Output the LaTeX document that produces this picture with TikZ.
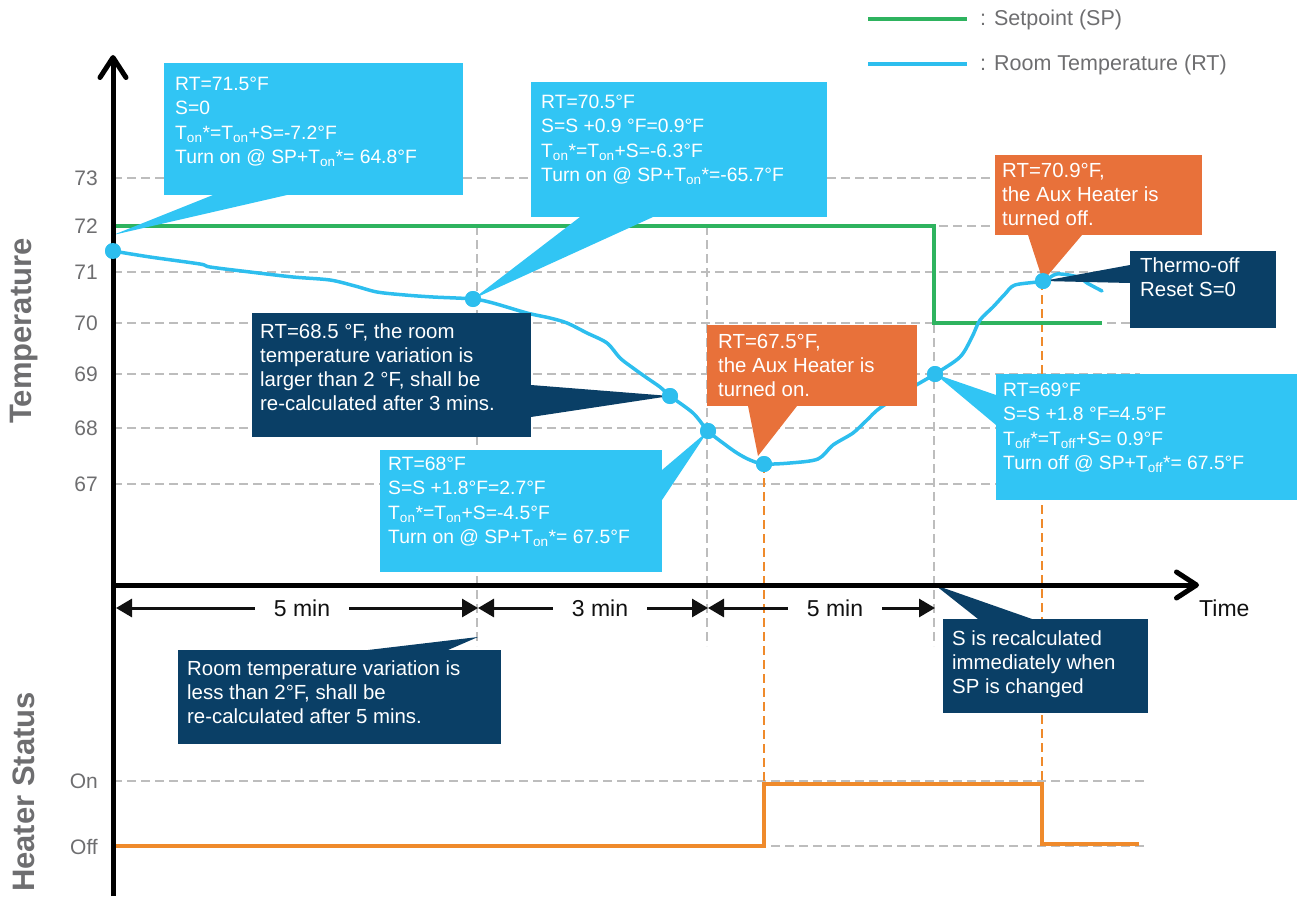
\documentclass[tikz,border=0pt]{standalone}
\usepackage{fontspec}
\setmainfont{Liberation Sans}
\usetikzlibrary{arrows.meta,calc}
\definecolor{cblue}{HTML}{31C5F4}
\definecolor{rtblue}{HTML}{2DBEEE}
\definecolor{navy}{HTML}{0A3F66}
\definecolor{corange}{HTML}{E8713A}
\definecolor{hot}{HTML}{EF8A2B}
\definecolor{spgreen}{HTML}{2EB35F}
\definecolor{gridgray}{HTML}{BDBDBD}
\definecolor{labelgray}{HTML}{6E6E70}
\definecolor{dimblack}{HTML}{111111}
\tikzset{
  gridline/.style={draw=gridgray, line width=1.5pt, dash pattern=on 9pt off 5pt},
  hotdash/.style={draw=hot, line width=1.5pt, dash pattern=on 9pt off 5pt},
  spline/.style={draw=spgreen, line width=4.5pt},
  rtline/.style={draw=rtblue, line width=3.5pt, line join=round, line cap=round},
  heatline/.style={draw=hot, line width=4pt},
  axisline/.style={draw=black, line width=5pt, -{Straight Barb[length=20pt,width=26pt,round]}},
  dimline/.style={draw=dimblack, line width=3pt, {Triangle[length=16pt,width=18pt]}-{Triangle[length=16pt,width=18pt]}},
  dimlabel/.style={fill=white, inner xsep=19pt, inner ysep=2pt, text=dimblack, font=\fontsize{23}{26}\selectfont},
  box/.style={inner sep=0pt, anchor=north west, outer sep=0pt},
  bluetxt/.style={inner sep=0pt, anchor=north west, align=left, text=white, font=\fontsize{19.3}{24.3}\selectfont},
  darktxt/.style={inner sep=0pt, anchor=north west, align=left, text=white, font=\fontsize{20.4}{24}\selectfont},
  tick/.style={anchor=east, inner sep=0pt, text=labelgray, font=\fontsize{21}{24}\selectfont},
  dot/.style={circle, fill=rtblue, minimum size=16pt, inner sep=0pt},
  axtitle/.style={rotate=90, text=labelgray, font=\bfseries\fontsize{31}{31}\selectfont},
  legtxt/.style={anchor=base west, inner sep=0pt, text=labelgray, font=\fontsize{21.5}{24}\selectfont}
}
\begin{document}
\begin{tikzpicture}[x=1pt,y=-1pt]
\useasboundingbox (0,0) rectangle (1297,896);

% horizontal grid lines
\draw[gridline] (113,178) -- (995,178);
\draw[gridline] (113,226) -- (995,226);
\draw[gridline] (113,272) -- (1140,272);
\draw[gridline] (113,323) -- (1140,323);
\draw[gridline] (113,374) -- (1140,374);
\draw[gridline] (113,428) -- (1140,428);
\draw[gridline] (113,484) -- (1000,484);
\draw[gridline] (113,781) -- (1145,781);
\draw[gridline] (113,846) -- (1145,846);
% vertical grid lines
\draw[gridline] (477,226) -- (477,646);
\draw[gridline] (707,226) -- (707,646);
\draw[gridline] (934,226) -- (934,646);

% free pointer ends
\coordinate (pA) at (113,235);
\coordinate (pE) at (758,456);
\coordinate (pI) at (478,637);
\coordinate (pJ) at (935,585);

% orange dashed
\draw[hotdash] (764,464) -- (764,784);
\draw[hotdash] (1042,281) -- (1042,784);

% setpoint
\draw[spline] (113,226) -- (934,226) -- (934,323) -- (1102,323);

% heater status
\draw[heatline] (113,846) -- (764,846) -- (764,784) -- (1042,784) -- (1042,844) -- (1139,844);

% room temperature curve
\draw[rtline] plot[smooth, tension=0.5] coordinates {
(113,251) (150,257) (200,264) (210,267) (250,272) (293,277) (330,280) (355,286) (377,292) (405,295) (433,297) (473,299)
(493,303) (527,313) (550,318) (567,323) (587,333) (607,343) (620,358) (633,368) (647,378) (660,387) (670,396)
(693,413) (708,431) (723,443) (737,453) (750,460) (764,464) (790,463) (818,459) (833,445) (853,433) (867,420)
(880,408) (913,387) (935,374) (960,357) (972,337) (980,320) (993,307) (1005,294) (1015,285) (1043,281)
(1057,274) (1078,277) (1087,283) (1102,291)};

% dots
\node[dot] (dA) at (113,251) {};
\node[dot] (dB) at (473,299) {};
\node[dot] (dC) at (670,396) {};
\node[dot] (dD) at (708,431) {};
\node[dot] (dE) at (764,464) {};
\node[dot] (dF) at (935,374) {};
\node[dot] (dG) at (1043,281) {};

% boxes
\node[box, fill=cblue, minimum width=299pt, minimum height=132pt] (boxA) at (164,63) {};
\node[box, fill=cblue, minimum width=296pt, minimum height=135pt] (boxB) at (531,82) {};
\node[box, fill=navy, minimum width=279pt, minimum height=124pt] (boxC) at (252,313) {};
\node[box, fill=cblue, minimum width=282pt, minimum height=122pt] (boxD) at (380,450) {};
\node[box, fill=corange, minimum width=210pt, minimum height=81pt] (boxE) at (707,325) {};
\node[box, fill=cblue, minimum width=301pt, minimum height=126pt] (boxF) at (996,374) {};
\node[box, fill=corange, minimum width=207pt, minimum height=80pt] (boxG) at (995,155) {};
\node[box, fill=navy, minimum width=146pt, minimum height=77pt] (boxH) at (1130,251) {};
\node[box, fill=navy, minimum width=323pt, minimum height=94pt] (boxI) at (178,650) {};
\node[box, fill=navy, minimum width=205pt, minimum height=94pt] (boxJ) at (943,619) {};

% pointers
\fill[cblue] ($(boxA.south west)+(49,0)$) -- (pA) -- ($(boxA.south west)+(123,0)$) -- cycle;
\fill[cblue] ($(boxB.south west)+(49,0)$) -- (dB.center) -- ($(boxB.south west)+(122,0)$) -- cycle;
\fill[navy] ($(boxC.north east)+(0,72)$) -- (dC.center) -- ($(boxC.north east)+(0,104)$) -- cycle;
\fill[cblue] ($(boxD.north east)+(0,20)$) -- (dD.center) -- ($(boxD.north east)+(0,50)$) -- cycle;
\fill[corange] ($(boxE.south west)+(41,0)$) -- (pE) -- ($(boxE.south west)+(90,0)$) -- cycle;
\fill[cblue] ($(boxF.north west)+(0,21)$) -- (dF.center) -- ($(boxF.north west)+(0,51)$) -- cycle;
\fill[corange] ($(boxG.south west)+(33,0)$) -- (dG.center) -- ($(boxG.south west)+(87,0)$) -- cycle;
\fill[navy] ($(boxH.north west)+(0,14)$) -- (dG.center) -- ($(boxH.north west)+(0,32)$) -- cycle;
\fill[navy] ($(boxI.north west)+(190,0)$) -- (pI) -- ($(boxI.north west)+(270,0)$) -- cycle;
\fill[navy] ($(boxJ.north west)+(35,0)$) -- (pJ) -- ($(boxJ.north west)+(89,0)$) -- cycle;

% redraw dots over pointers
\node[dot] at (dB) {};
\node[dot] at (dC) {};
\node[dot] at (dD) {};
\node[dot] at (dF) {};
\node[dot] at (dG) {};
\node[dot] at (dE) {};

% texts
\node[bluetxt] (tA) at ($(boxA.north west)+(11,14)$) {RT=71.5°F\\S=0\\T\textsubscript{on}*=T\textsubscript{on}+S=-7.2°F\\Turn on @ SP+T\textsubscript{on}*= 64.8°F};
\node[bluetxt] (tB) at ($(boxB.north west)+(10,13)$) {RT=70.5°F\\S=S +0.9 °F=0.9°F\\T\textsubscript{on}*=T\textsubscript{on}+S=-6.3°F\\Turn on @ SP+T\textsubscript{on}*=-65.7°F};
\node[darktxt] (tC) at ($(boxC.north west)+(8,11)$) {RT=68.5 °F, the room\\temperature variation is\\larger than 2 °F, shall be\\re-calculated after 3 mins.};
\node[bluetxt] (tD) at ($(boxD.north west)+(8,7)$) {RT=68°F\\S=S +1.8°F=2.7°F\\T\textsubscript{on}*=T\textsubscript{on}+S=-4.5°F\\Turn on @ SP+T\textsubscript{on}*= 67.5°F};
\node[darktxt] (tE) at ($(boxE.north west)+(11,9)$) {RT=67.5°F,\\the Aux Heater is\\turned on.};
\node[bluetxt] (tF) at ($(boxF.north west)+(7,9)$) {RT=69°F\\S=S +1.8 °F=4.5°F\\T\textsubscript{off}*=T\textsubscript{off}+S= 0.9°F\\Turn off @ SP+T\textsubscript{off}*= 67.5°F};
\node[darktxt] (tG) at ($(boxG.north west)+(7,8)$) {RT=70.9°F,\\the Aux Heater is\\turned off.};
\node[darktxt] (tH) at ($(boxH.north west)+(10,7)$) {Thermo-off\\Reset S=0};
\node[darktxt] (tI) at ($(boxI.north west)+(9,11)$) {Room temperature variation is\\less than 2°F, shall be\\re-calculated after 5 mins.};
\node[darktxt] (tJ) at ($(boxJ.north west)+(9,12)$) {S is recalculated\\immediately when\\SP is changed};

% axes
\coordinate (ybot) at (113,896);
\coordinate (ytop) at (113,55);
\coordinate (xl) at (111,585);
\coordinate (xr) at (1199,585);
\draw[axisline] (ybot) -- (ytop);
\draw[axisline] (xl) -- (xr);
\node[dot] at (dA) {};

% tick labels
\node[tick] (l73) at (98,178) {73};
\node[tick] (l72) at (98,226) {72};
\node[tick] (l71) at (98,272) {71};
\node[tick] (l70) at (98,323) {70};
\node[tick] (l69) at (98,374) {69};
\node[tick] (l68) at (98,428) {68};
\node[tick] (l67) at (98,484) {67};
\node[tick] (lon) at (98,781) {On};
\node[tick] (loff) at (98,847) {Off};
\node[anchor=west, inner sep=0pt, text=dimblack, font=\fontsize{23}{26}\selectfont] (time) at (1199,608) {Time};

% axis titles
\node[axtitle] (ttemp) at (24,331) {Temperature};
\node[axtitle] (theat) at (24,792) {Heater Status};

% dimension arrows
\coordinate (t0) at (116,608);
\coordinate (t1) at (478,608);
\coordinate (t2) at (708,608);
\coordinate (t3) at (935,608);
\draw[dimline] (t0) -- (t1);
\draw[dimline] (t1) -- (t2);
\draw[dimline] (t2) -- (t3);
\node[dimlabel] (m1) at (302,608) {5 min};
\node[dimlabel] (m2) at (600,608) {3 min};
\node[dimlabel] (m3) at (835,608) {5 min};

% legend
\coordinate (lg1) at (868,19);
\coordinate (lg2) at (967,19);
\coordinate (lb1) at (868,64);
\coordinate (lb2) at (967,64);
\draw[spline] (lg1) -- (lg2);
\draw[rtline, line width=4.5pt, line cap=butt] (lb1) -- (lb2);
\node[legtxt] (legsp) at (980,26) {: Setpoint (SP)};
\node[legtxt] (legrt) at (980,71) {: Room Temperature (RT)};
\end{tikzpicture}
\end{document}
